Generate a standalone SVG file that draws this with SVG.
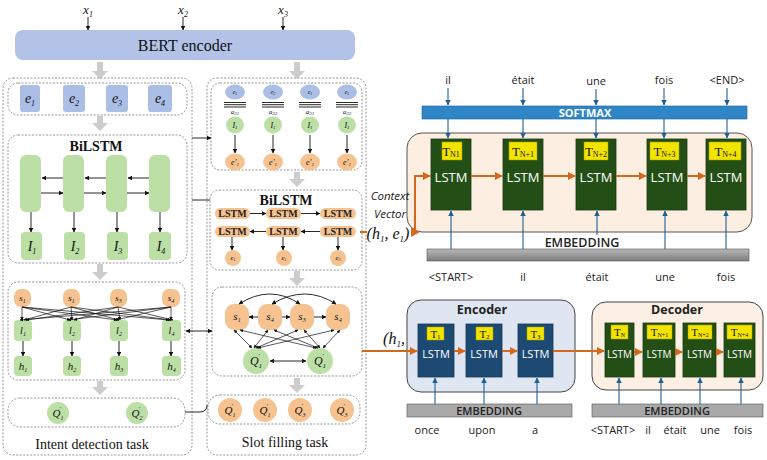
<svg xmlns="http://www.w3.org/2000/svg" width="767" height="460" viewBox="0 0 767 460">
<defs>
<marker id="ab" viewBox="0 0 10 10" refX="9" refY="5" markerWidth="5" markerHeight="5" orient="auto-start-reverse"><path d="M0,0 L10,5 L0,10 z" fill="#111"/></marker>
<marker id="abl" viewBox="0 0 10 10" refX="9" refY="5" markerWidth="5" markerHeight="5" orient="auto-start-reverse"><path d="M0,0 L10,5 L0,10 z" fill="#1f5f94"/></marker>
<marker id="aor" viewBox="0 0 10 10" refX="9" refY="5" markerWidth="4" markerHeight="4" orient="auto-start-reverse"><path d="M0,0 L10,5 L0,10 z" fill="#d2691e"/></marker>
<linearGradient id="emb" x1="0" y1="0" x2="0" y2="1"><stop offset="0" stop-color="#b8b8b8"/><stop offset="1" stop-color="#7d7d7d"/></linearGradient>
</defs>
<style>
.serif{font-family:"Liberation Serif","Times New Roman",serif;}
.sans{font-family:"Open Sans","Noto Sans",sans-serif;}
.dash{fill:none;stroke:#8a8a8a;stroke-width:0.9;stroke-dasharray:2 1.5;}
.blk{stroke:#111;stroke-width:0.9;fill:none;}
.a{marker-end:url(#ab);}
.aa{marker-start:url(#ab);marker-end:url(#ab);}
.thin{stroke-width:0.7;}
.blu{stroke:#1f5f94;stroke-width:1.1;fill:none;marker-end:url(#abl);}
.org{stroke:#d2691e;stroke-width:2;fill:none;}
.oa{marker-end:url(#aor);}
.gbox{fill:#bcdfa6;}
.obox{fill:#f6c28f;}
.bbox{fill:#abbfe6;}
.lbl{font-family:"Liberation Serif",serif;font-style:italic;text-anchor:middle;fill:#111;}
.gray{fill:#cccccc;}
.lstmG{fill:#234f17;stroke:#1a3a10;stroke-width:0.8;}
.lstmB{fill:#1d4a72;stroke:#15385a;stroke-width:0.8;}
.yel{fill:#f3e400;stroke:#a89e00;stroke-width:0.5;}
.wt{font-family:"Open Sans","Noto Sans",sans-serif;fill:#fff;text-anchor:middle;}
.tt{font-family:"Liberation Serif",serif;fill:#111;text-anchor:middle;}
.pill{fill:#f6c28f;}
.lt{font-family:"Liberation Serif",serif;font-size:10px;font-weight:bold;text-anchor:middle;fill:#222;}
</style>

<g id="inputs">
<text class="lbl" x="88" y="14" font-size="13">x<tspan font-size="8" dy="3">1</tspan></text>
<text class="lbl" x="183" y="14" font-size="13">x<tspan font-size="8" dy="3">2</tspan></text>
<text class="lbl" x="283" y="14" font-size="13">x<tspan font-size="8" dy="3">3</tspan></text>
</g>
<g id="bert">
<rect x="15" y="30" width="340" height="30" rx="8" fill="#b3c3e7"/>
<text class="serif" x="185" y="51" font-size="16" text-anchor="middle" fill="#111">BERT  encoder</text>
</g>

<g id="blockarrows">
<path class="gray" d="M97,62 h6 v9 h5 l-8,8 l-8,-8 h5 z"/>
<path class="gray" d="M294,62 h6 v9 h5 l-8,8 l-8,-8 h5 z"/>
<path class="gray" d="M97,116 h6 v7 h5 l-8,8 l-8,-8 h5 z"/>
<path class="gray" d="M97,264 h6 v8 h5 l-8,8 l-8,-8 h5 z"/>
<path class="gray" d="M97,381 h6 v6 h5 l-8,8 l-8,-8 h5 z"/>
<path class="gray" d="M294,172 h6 v7 h5 l-8,8 l-8,-8 h5 z"/>
<path class="gray" d="M294,271 h6 v7 h5 l-8,8 l-8,-8 h5 z"/>
<path class="gray" d="M294,378 h6 v7 h5 l-8,8 l-8,-8 h5 z"/>
</g>

<g id="intent-task">
<rect class="dash" x="3" y="78" width="189" height="377" rx="10"/>
<text class="serif" x="92" y="449" font-size="14" text-anchor="middle" fill="#111">Intent detection task</text>
</g>
<g id="left-embeddings">
<rect class="dash" x="8" y="83" width="179" height="32" rx="10"/>
<rect class="bbox" x="20" y="85" width="20" height="27" rx="3"/>
<rect class="bbox" x="63" y="85" width="22" height="27" rx="3"/>
<rect class="bbox" x="106" y="85" width="22" height="27" rx="3"/>
<rect class="bbox" x="148" y="85" width="24" height="27" rx="3"/>
<text class="lbl" x="30" y="103" font-size="14">e<tspan font-size="8" dy="3">1</tspan></text>
<text class="lbl" x="74" y="103" font-size="14">e<tspan font-size="8" dy="3">2</tspan></text>
<text class="lbl" x="117" y="103" font-size="14">e<tspan font-size="8" dy="3">3</tspan></text>
<text class="lbl" x="160" y="103" font-size="14">e<tspan font-size="8" dy="3">4</tspan></text>
</g>
<g id="left-bilstm">
<rect class="dash" x="8" y="135" width="179" height="128" rx="10"/>
<text class="serif" x="96" y="151" font-size="14" font-weight="bold" text-anchor="middle" fill="#111">BiLSTM</text>
<rect class="gbox" x="20" y="155" width="21" height="57" rx="6"/>
<rect class="gbox" x="63" y="155" width="21" height="57" rx="6"/>
<rect class="gbox" x="106" y="155" width="21" height="57" rx="6"/>
<rect class="gbox" x="149" y="155" width="21" height="57" rx="6"/>
<rect class="gbox" x="21" y="232" width="21" height="28" rx="4"/>
<rect class="gbox" x="64" y="232" width="21" height="28" rx="4"/>
<rect class="gbox" x="107" y="232" width="21" height="28" rx="4"/>
<rect class="gbox" x="149" y="232" width="22" height="28" rx="4"/>
<text class="lbl" x="32" y="251" font-size="14">I<tspan font-size="8" dy="3">1</tspan></text>
<text class="lbl" x="75" y="251" font-size="14">I<tspan font-size="8" dy="3">2</tspan></text>
<text class="lbl" x="118" y="251" font-size="14">I<tspan font-size="8" dy="3">3</tspan></text>
<text class="lbl" x="161" y="251" font-size="14">I<tspan font-size="8" dy="3">4</tspan></text>
</g>
<g id="left-graph">
<rect class="dash" x="8" y="282" width="177" height="98" rx="10"/>
<rect class="obox" x="14" y="289" width="17" height="18" rx="7"/>
<rect class="obox" x="63" y="289" width="17" height="18" rx="7"/>
<rect class="obox" x="110" y="289" width="17" height="18" rx="7"/>
<rect class="obox" x="162" y="289" width="18" height="18" rx="7"/>
<text class="lbl" x="22.5" y="301" font-size="9">s<tspan font-size="6" dy="2">1</tspan></text>
<text class="lbl" x="71.5" y="301" font-size="9">s<tspan font-size="6" dy="2">1</tspan></text>
<text class="lbl" x="118.5" y="301" font-size="9">s<tspan font-size="6" dy="2">3</tspan></text>
<text class="lbl" x="171" y="301" font-size="9">s<tspan font-size="6" dy="2">4</tspan></text>
<rect class="gbox" x="14" y="320" width="18" height="21" rx="4"/>
<rect class="gbox" x="63" y="320" width="18" height="21" rx="4"/>
<rect class="gbox" x="110" y="320" width="18" height="21" rx="4"/>
<rect class="gbox" x="162" y="320" width="19" height="21" rx="4"/>
<text class="lbl" x="23" y="334" font-size="10">l<tspan font-size="6" dy="2">1</tspan></text>
<text class="lbl" x="72" y="334" font-size="10">l<tspan font-size="6" dy="2">2</tspan></text>
<text class="lbl" x="119" y="334" font-size="10">l<tspan font-size="6" dy="2">2</tspan></text>
<text class="lbl" x="171.5" y="334" font-size="10">l<tspan font-size="6" dy="2">4</tspan></text>
<rect class="gbox" x="14" y="356" width="18" height="20" rx="4"/>
<rect class="gbox" x="63" y="356" width="18" height="20" rx="4"/>
<rect class="gbox" x="110" y="356" width="18" height="20" rx="4"/>
<rect class="gbox" x="162" y="356" width="19" height="20" rx="4"/>
<text class="lbl" x="23" y="370" font-size="11">h<tspan font-size="6" dy="2">1</tspan></text>
<text class="lbl" x="72" y="370" font-size="11">h<tspan font-size="6" dy="2">2</tspan></text>
<text class="lbl" x="119" y="370" font-size="11">h<tspan font-size="6" dy="2">3</tspan></text>
<text class="lbl" x="171.5" y="370" font-size="11">h<tspan font-size="6" dy="2">4</tspan></text>
</g>
<g id="left-output">
<rect class="dash" x="8" y="398" width="177" height="29" rx="12"/>
<circle class="gbox" cx="58" cy="413" r="11"/>
<circle class="gbox" cx="137" cy="413" r="11"/>
<text class="lbl" x="58" y="417" font-size="11">Q<tspan font-size="6" dy="3">1</tspan><tspan font-size="6" dx="-4" dy="-9">'</tspan></text>
<text class="lbl" x="137" y="417" font-size="11">Q<tspan font-size="6" dy="3">2</tspan><tspan font-size="6" dx="-4" dy="-9">'</tspan></text>
</g>

<g id="slot-task">
<rect class="dash" x="207" y="78" width="159" height="377" rx="10"/>
<text class="serif" x="285" y="447" font-size="14" text-anchor="middle" fill="#111">Slot filling task</text>
</g>
<g id="middle-attention">
<rect class="dash" x="211" y="83" width="151" height="87" rx="9"/>
<ellipse class="bbox" cx="235" cy="92" rx="10" ry="7.5"/>
<ellipse class="bbox" cx="273" cy="92" rx="10" ry="7.5"/>
<ellipse class="bbox" cx="310" cy="92" rx="10" ry="7.5"/>
<ellipse class="bbox" cx="347" cy="92" rx="10" ry="7.5"/>
<text class="lbl" x="235" y="94" font-size="6">e<tspan font-size="4" dy="1">1</tspan></text>
<text class="lbl" x="273" y="94" font-size="6">e<tspan font-size="4" dy="1">2</tspan></text>
<text class="lbl" x="310" y="94" font-size="6">e<tspan font-size="4" dy="1">1</tspan></text>
<text class="lbl" x="347" y="94" font-size="6">e<tspan font-size="4" dy="1">1</tspan></text>
<g stroke="#111" stroke-width="0.9">
<path d="M224,102.5h22 M224,104.7h22 M224,107h22"/>
<path d="M262,102.5h22 M262,104.7h22 M262,107h22"/>
<path d="M299,102.5h22 M299,104.7h22 M299,107h22"/>
<path d="M336,102.5h22 M336,104.7h22 M336,107h22"/>
</g>
<text class="lbl" x="235" y="114" font-size="7">a<tspan font-size="5" dy="1">31</tspan></text>
<text class="lbl" x="273" y="114" font-size="7">a<tspan font-size="5" dy="1">32</tspan></text>
<text class="lbl" x="310" y="114" font-size="7">a<tspan font-size="5" dy="1">31</tspan></text>
<text class="lbl" x="347" y="114" font-size="7">a<tspan font-size="5" dy="1">33</tspan></text>
<ellipse class="gbox" cx="235" cy="125" rx="9" ry="8.5"/>
<ellipse class="gbox" cx="273" cy="125" rx="9" ry="8.5"/>
<ellipse class="gbox" cx="310" cy="125" rx="9" ry="8.5"/>
<ellipse class="gbox" cx="347" cy="125" rx="9" ry="8.5"/>
<text class="lbl" x="235" y="128" font-size="8">I<tspan font-size="5" dy="1">1</tspan></text>
<text class="lbl" x="273" y="128" font-size="8">I<tspan font-size="5" dy="1">1</tspan></text>
<text class="lbl" x="310" y="128" font-size="8">I<tspan font-size="5" dy="1">1</tspan></text>
<text class="lbl" x="347" y="128" font-size="8">I<tspan font-size="5" dy="1">1</tspan></text>
<ellipse class="obox" cx="235" cy="162" rx="10" ry="8.5"/>
<ellipse class="obox" cx="273" cy="162" rx="10" ry="8.5"/>
<ellipse class="obox" cx="310" cy="162" rx="10" ry="8.5"/>
<ellipse class="obox" cx="347" cy="162" rx="10" ry="8.5"/>
<text class="lbl" x="235" y="165" font-size="8">e'<tspan font-size="5" dy="1">1</tspan></text>
<text class="lbl" x="273" y="165" font-size="8">e'<tspan font-size="5" dy="1">1</tspan></text>
<text class="lbl" x="310" y="165" font-size="8">e'<tspan font-size="5" dy="1">1</tspan></text>
<text class="lbl" x="347" y="165" font-size="8">e'<tspan font-size="5" dy="1">1</tspan></text>
</g>
<g id="middle-bilstm">
<rect class="dash" x="210" y="190" width="152" height="80" rx="9"/>
<text class="serif" x="286" y="205" font-size="14" font-weight="bold" text-anchor="middle" fill="#111">BiLSTM</text>
<rect class="pill" x="215" y="208" width="35" height="11" rx="5.5"/>
<rect class="pill" x="266" y="208" width="35" height="11" rx="5.5"/>
<rect class="pill" x="320" y="208" width="36" height="11" rx="5.5"/>
<rect class="pill" x="215" y="226" width="35" height="11" rx="5.5"/>
<rect class="pill" x="266" y="226" width="35" height="11" rx="5.5"/>
<rect class="pill" x="320" y="226" width="36" height="11" rx="5.5"/>
<text class="lt" x="232.5" y="217">LSTM</text>
<text class="lt" x="283.5" y="217">LSTM</text>
<text class="lt" x="338" y="217">LSTM</text>
<text class="lt" x="232.5" y="235">LSTM</text>
<text class="lt" x="283.5" y="235">LSTM</text>
<text class="lt" x="338" y="235">LSTM</text>
<circle class="obox" cx="233" cy="258" r="8"/>
<circle class="obox" cx="284" cy="258" r="8"/>
<circle class="obox" cx="338" cy="258" r="8"/>
<text class="lbl" x="233" y="260" font-size="7">e<tspan font-size="4" dy="1">1</tspan></text>
<text class="lbl" x="284" y="260" font-size="7">e<tspan font-size="4" dy="1">1</tspan></text>
<text class="lbl" x="338" y="260" font-size="7">e<tspan font-size="4" dy="1">3</tspan></text>
</g>
<g id="middle-graph">
<rect class="dash" x="212" y="287" width="150" height="89" rx="10"/>
<rect class="obox" x="225" y="304" width="24" height="26" rx="9"/>
<rect class="obox" x="258" y="304" width="24" height="26" rx="9"/>
<rect class="obox" x="290" y="304" width="24" height="26" rx="9"/>
<rect class="obox" x="326" y="304" width="24" height="26" rx="9"/>
<text class="lbl" x="237" y="320" font-size="11">s<tspan font-size="6" dy="2">1</tspan></text>
<text class="lbl" x="270" y="320" font-size="11">s<tspan font-size="6" dy="2">4</tspan></text>
<text class="lbl" x="302" y="320" font-size="11">s<tspan font-size="6" dy="2">3</tspan></text>
<text class="lbl" x="338" y="320" font-size="11">s<tspan font-size="6" dy="2">4</tspan></text>
<circle class="gbox" cx="256" cy="361" r="13"/>
<circle class="gbox" cx="320" cy="361" r="13"/>
<text class="lbl" x="256" y="365" font-size="12">Q<tspan font-size="7" dy="3">1</tspan><tspan font-size="7" dx="-4" dy="-10">'</tspan></text>
<text class="lbl" x="320" y="365" font-size="12">Q<tspan font-size="7" dy="3">1</tspan><tspan font-size="7" dx="-4" dy="-10">'</tspan></text>
</g>
<g id="middle-output">
<rect class="dash" x="208" y="395" width="152" height="29" rx="12"/>
<circle class="obox" cx="230" cy="410" r="12"/>
<circle class="obox" cx="265" cy="410" r="12"/>
<circle class="obox" cx="300" cy="410" r="12"/>
<circle class="obox" cx="342" cy="410" r="12"/>
<text class="lbl" x="230" y="414" font-size="11">Q<tspan font-size="6" dy="3">1</tspan><tspan font-size="6" dx="-4" dy="-9">'</tspan></text>
<text class="lbl" x="265" y="414" font-size="11">Q<tspan font-size="6" dy="3">1</tspan><tspan font-size="6" dx="-4" dy="-9">'</tspan></text>
<text class="lbl" x="300" y="414" font-size="11">Q<tspan font-size="6" dy="3">3</tspan><tspan font-size="6" dx="-4" dy="-9">'</tspan></text>
<text class="lbl" x="342" y="414" font-size="11">Q<tspan font-size="6" dy="3">3</tspan><tspan font-size="6" dx="-4" dy="-9">'</tspan></text>
</g>

<g id="top-words" class="sans" font-size="11" text-anchor="middle" fill="#222">
<text x="448" y="84">il</text>
<text x="523" y="84">était</text>
<text x="596" y="85">une</text>
<text x="664" y="84">fois</text>
<text x="727" y="84">&lt;END&gt;</text>
</g>
<g id="softmax">
<rect x="422" y="106" width="325" height="13" fill="#2f86c6" stroke="#1d5f94" stroke-width="0.6"/>
<text class="wt" x="585" y="116.5" font-size="11" font-weight="bold">SOFTMAX</text>
</g>
<g id="top-decoder">
<rect x="407" y="133" width="345" height="99" rx="15" fill="#fdeee2" stroke="#555" stroke-width="1"/>
<rect class="lstmG" x="431" y="139" width="40" height="71"/>
<rect class="lstmG" x="503" y="139" width="40" height="71"/>
<rect class="lstmG" x="576" y="139" width="40" height="71"/>
<rect class="lstmG" x="647" y="139" width="40" height="71"/>
<rect class="lstmG" x="706" y="139" width="40" height="71"/>
<rect class="yel" x="442" y="142" width="20" height="18"/>
<rect class="yel" x="509" y="142" width="28" height="18"/>
<rect class="yel" x="584" y="142" width="24" height="18"/>
<rect class="yel" x="650" y="142" width="29" height="18"/>
<rect class="yel" x="709" y="142" width="32" height="18"/>
<text class="tt" x="451" y="156" font-size="13">T<tspan font-size="8" dy="1">N1</tspan></text>
<text class="tt" x="523" y="156" font-size="13">T<tspan font-size="8" dy="1">N+1</tspan></text>
<text class="tt" x="596" y="156" font-size="13">T<tspan font-size="8" dy="1">N+2</tspan></text>
<text class="tt" x="664.5" y="156" font-size="13">T<tspan font-size="8" dy="1">N+3</tspan></text>
<text class="tt" x="725.5" y="156" font-size="13">T<tspan font-size="8" dy="1">N+4</tspan></text>
<text class="wt" x="451" y="182" font-size="13">LSTM</text>
<text class="wt" x="523" y="182" font-size="13">LSTM</text>
<text class="wt" x="596" y="182" font-size="13">LSTM</text>
<text class="wt" x="667" y="182" font-size="13">LSTM</text>
<text class="wt" x="726" y="182" font-size="13">LSTM</text>
</g>
<g id="top-embedding">
<text class="sans" x="582" y="247" font-size="12.5" font-weight="600" text-anchor="middle" fill="#222">EMBEDDING</text>
<rect x="427" y="249" width="322" height="12" fill="url(#emb)" stroke="#555" stroke-width="0.6"/>
</g>
<g id="top-inputs" class="sans" font-size="11" text-anchor="middle" fill="#222">
<text x="451" y="281">&lt;START&gt;</text>
<text x="523" y="281">il</text>
<text x="597" y="281">était</text>
<text x="665" y="281">une</text>
<text x="726" y="281">fois</text>
</g>
<g id="context-vector">
<text class="sans" x="390" y="200" font-size="11.5" font-style="italic" text-anchor="middle" fill="#222">Context</text>
<text class="sans" x="390" y="218" font-size="11.5" font-style="italic" text-anchor="middle" fill="#222">Vector</text>
<text class="serif" x="388" y="239" font-size="16" font-style="italic" text-anchor="middle" fill="#111">(h<tspan font-size="9" dy="3">1</tspan><tspan dy="-3">, e</tspan><tspan font-size="9" dy="3">1</tspan><tspan dy="-3">)</tspan></text>
</g>

<g id="encoder">
<rect x="407" y="300" width="168" height="92" rx="14" fill="#dfe6f1" stroke="#444" stroke-width="1"/>
<text class="sans" x="482" y="314" font-size="12.5" font-weight="bold" text-anchor="middle" fill="#222">Encoder</text>
<rect class="lstmB" x="418" y="324" width="36" height="53"/>
<rect class="lstmB" x="466" y="324" width="36" height="53"/>
<rect class="lstmB" x="518" y="324" width="35" height="53"/>
<rect class="yel" x="427" y="327" width="17" height="13"/>
<rect class="yel" x="476" y="327" width="17" height="13"/>
<rect class="yel" x="527" y="327" width="17" height="13"/>
<text class="tt" x="435.5" y="338" font-size="11">T<tspan font-size="7" dy="1">1</tspan></text>
<text class="tt" x="484.5" y="338" font-size="11">T<tspan font-size="7" dy="1">2</tspan></text>
<text class="tt" x="535.5" y="338" font-size="11">T<tspan font-size="7" dy="1">3</tspan></text>
<text class="wt" x="436" y="358" font-size="11">LSTM</text>
<text class="wt" x="484" y="358" font-size="11">LSTM</text>
<text class="wt" x="535.5" y="358" font-size="11">LSTM</text>
<rect x="407" y="404" width="165" height="13" fill="#a9a9a9" stroke="#555" stroke-width="0.6"/>
<text class="sans" x="489" y="414.5" font-size="11" font-weight="600" text-anchor="middle" fill="#222">EMBEDDING</text>
<g class="sans" font-size="11" text-anchor="middle" fill="#222">
<text x="427" y="434">once</text>
<text x="482" y="434">upon</text>
<text x="535" y="434">a</text>
</g>
<text class="serif" x="394" y="344" font-size="16" font-style="italic" text-anchor="middle" fill="#111">(h<tspan font-size="9" dy="3">1</tspan><tspan dy="-3">,</tspan></text>
</g>
<g id="decoder">
<rect x="592" y="302" width="171" height="88" rx="14" fill="#fcefe3" stroke="#444" stroke-width="1"/>
<text class="sans" x="677" y="314" font-size="12.5" font-weight="bold" text-anchor="middle" fill="#222">Decoder</text>
<rect class="lstmG" x="605" y="323" width="29" height="54"/>
<rect class="lstmG" x="643" y="323" width="32" height="54"/>
<rect class="lstmG" x="683" y="323" width="33" height="54"/>
<rect class="lstmG" x="724" y="323" width="31" height="54"/>
<rect class="yel" x="611" y="325" width="17" height="14"/>
<rect class="yel" x="647" y="325" width="25" height="14"/>
<rect class="yel" x="688" y="325" width="24" height="14"/>
<rect class="yel" x="727" y="325" width="25" height="14"/>
<text class="tt" x="619.5" y="336" font-size="11">T<tspan font-size="6" dy="1">N</tspan></text>
<text class="tt" x="659.5" y="336" font-size="11">T<tspan font-size="6" dy="1">N+1</tspan></text>
<text class="tt" x="700" y="336" font-size="11">T<tspan font-size="6" dy="1">N+2</tspan></text>
<text class="tt" x="739.5" y="336" font-size="11">T<tspan font-size="6" dy="1">N+4</tspan></text>
<text class="wt" x="619.5" y="358" font-size="10">LSTM</text>
<text class="wt" x="659" y="358" font-size="10">LSTM</text>
<text class="wt" x="699.5" y="358" font-size="10">LSTM</text>
<text class="wt" x="739.5" y="358" font-size="10">LSTM</text>
<rect x="592" y="404" width="171" height="13" fill="#a9a9a9" stroke="#555" stroke-width="0.6"/>
<text class="sans" x="677" y="414.5" font-size="11" font-weight="600" text-anchor="middle" fill="#222">EMBEDDING</text>
<g class="sans" font-size="11" text-anchor="middle" fill="#222">
<text x="613" y="434">&lt;START&gt;</text>
<text x="648" y="434">il</text>
<text x="675" y="434">était</text>
<text x="710" y="434">une</text>
<text x="743" y="434">fois</text>
</g>
</g>

<g id="connectors">
<line class="blk a" x1="88" y1="17" x2="88" y2="30"/>
<line class="blk a" x1="183" y1="17" x2="183" y2="30"/>
<line class="blk a" x1="283" y1="17" x2="283" y2="30"/>
<line class="blk a" x1="63" y1="178" x2="42" y2="178"/>
<line class="blk a" x1="106" y1="178" x2="85" y2="178"/>
<line class="blk a" x1="149" y1="178" x2="128" y2="178"/>
<line class="blk a" x1="41" y1="193" x2="63" y2="193"/>
<line class="blk a" x1="84" y1="193" x2="106" y2="193"/>
<line class="blk a" x1="127" y1="193" x2="149" y2="193"/>
<line class="blk a" x1="31" y1="212" x2="31" y2="232"/>
<line class="blk a" x1="74" y1="212" x2="74" y2="232"/>
<line class="blk a" x1="117" y1="212" x2="117" y2="232"/>
<line class="blk a" x1="160" y1="212" x2="160" y2="232"/>
<line class="blk a thin" x1="22" y1="307" x2="22" y2="320"/>
<line class="blk a thin" x1="22" y1="307" x2="70" y2="320"/>
<line class="blk a thin" x1="22" y1="307" x2="117" y2="320"/>
<line class="blk a thin" x1="22" y1="307" x2="169" y2="320"/>
<line class="blk a thin" x1="71" y1="307" x2="24" y2="320"/>
<line class="blk a thin" x1="71" y1="307" x2="72" y2="320"/>
<line class="blk a thin" x1="71" y1="307" x2="119" y2="320"/>
<line class="blk a thin" x1="71" y1="307" x2="171" y2="320"/>
<line class="blk a thin" x1="118" y1="307" x2="26" y2="320"/>
<line class="blk a thin" x1="118" y1="307" x2="74" y2="320"/>
<line class="blk a thin" x1="118" y1="307" x2="120" y2="320"/>
<line class="blk a thin" x1="118" y1="307" x2="173" y2="320"/>
<line class="blk a thin" x1="171" y1="307" x2="20" y2="320"/>
<line class="blk a thin" x1="171" y1="307" x2="68" y2="320"/>
<line class="blk a thin" x1="171" y1="307" x2="116" y2="320"/>
<line class="blk a thin" x1="171" y1="307" x2="171" y2="320"/>
<line class="blk a" x1="23" y1="341" x2="23" y2="356"/>
<line class="blk a" x1="72" y1="341" x2="72" y2="356"/>
<line class="blk a" x1="119" y1="341" x2="119" y2="356"/>
<line class="blk a" x1="171" y1="341" x2="171" y2="356"/>
<line class="blk" stroke="#555" x1="192" y1="200" x2="210" y2="200"/>
<line class="blk a" x1="192" y1="138" x2="211" y2="138"/>
<line class="blk aa" x1="186" y1="331" x2="212" y2="331"/>
<path class="blk" stroke="#555" d="M185,412 H200 Q207,412 207,405"/>
<line class="blk a" x1="235" y1="135" x2="235" y2="153"/>
<line class="blk a" x1="273" y1="135" x2="273" y2="153"/>
<line class="blk a" x1="310" y1="135" x2="310" y2="153"/>
<line class="blk a" x1="347" y1="135" x2="347" y2="153"/>
<line class="blk a" x1="250" y1="213.5" x2="266" y2="213.5"/>
<line class="blk a" x1="301" y1="213.5" x2="320" y2="213.5"/>
<line class="blk a" x1="266" y1="231.5" x2="250" y2="231.5"/>
<line class="blk a" x1="320" y1="231.5" x2="301" y2="231.5"/>
<line class="blk a" x1="232" y1="237" x2="232" y2="250"/>
<line class="blk a" x1="283" y1="237" x2="283" y2="250"/>
<line class="blk a" x1="338" y1="237" x2="338" y2="250"/>
<line class="blk a" x1="258" y1="317" x2="249" y2="317"/>
<line class="blk a" x1="282" y1="317" x2="290" y2="317"/>
<line class="blk a" x1="314" y1="317" x2="326" y2="317"/>
<path class="blk aa" d="M239,304 Q270,284 300,304"/>
<path class="blk aa" d="M272,304 Q305,284 336,304"/>
<line class="blk aa thin" x1="252" y1="348" x2="234" y2="330"/>
<line class="blk aa thin" x1="254" y1="348" x2="268" y2="330"/>
<line class="blk aa thin" x1="256" y1="348" x2="298" y2="330"/>
<line class="blk aa thin" x1="258" y1="348" x2="334" y2="330"/>
<line class="blk aa thin" x1="316" y1="348" x2="240" y2="330"/>
<line class="blk aa thin" x1="318" y1="348" x2="274" y2="330"/>
<line class="blk aa thin" x1="320" y1="348" x2="304" y2="330"/>
<line class="blk aa thin" x1="323" y1="348" x2="340" y2="330"/>
<line class="blk aa" x1="270" y1="361" x2="306" y2="361"/>
<line class="blu" x1="448" y1="88" x2="448" y2="105"/>
<line class="blu" x1="523" y1="88" x2="523" y2="105"/>
<line class="blu" x1="596" y1="89" x2="596" y2="105"/>
<line class="blu" x1="664" y1="88" x2="664" y2="105"/>
<line class="blu" x1="727" y1="88" x2="727" y2="105"/>
<line class="blu" x1="448" y1="119" x2="448" y2="138"/>
<line class="blu" x1="523" y1="119" x2="523" y2="138"/>
<line class="blu" x1="596" y1="119" x2="596" y2="138"/>
<line class="blu" x1="664" y1="119" x2="664" y2="138"/>
<line class="blu" x1="727" y1="119" x2="727" y2="138"/>
<line class="blu" x1="451" y1="249" x2="451" y2="211"/>
<line class="blu" x1="523" y1="249" x2="523" y2="211"/>
<line class="blu" x1="597" y1="235" x2="597" y2="211"/>
<line class="blu" x1="665" y1="249" x2="665" y2="211"/>
<line class="blu" x1="726" y1="249" x2="726" y2="211"/>
<line class="org oa" x1="471" y1="176" x2="502" y2="176"/>
<line class="org oa" x1="543" y1="176" x2="575" y2="176"/>
<line class="org oa" x1="616" y1="176" x2="646" y2="176"/>
<line class="org oa" x1="687" y1="176" x2="705" y2="176"/>
<line class="org" x1="360" y1="232" x2="367" y2="232"/>
<path class="org oa" d="M415,230 V176 H430"/>
<path d="M411,227 L420,232 L411,237 z" fill="#d2691e"/>
<line class="org oa" x1="362" y1="351" x2="417" y2="351"/>
<line class="org oa" x1="454" y1="351" x2="465" y2="351"/>
<line class="org oa" x1="502" y1="351" x2="517" y2="351"/>
<line class="org oa" x1="553" y1="351" x2="604" y2="351"/>
<line class="org oa" stroke-width="1.6" x1="634" y1="352" x2="642" y2="352"/>
<line class="org oa" stroke-width="1.6" x1="675" y1="352" x2="682" y2="352"/>
<line class="org oa" stroke-width="1.6" x1="716" y1="352" x2="723" y2="352"/>
<line class="blu" x1="435" y1="404" x2="435" y2="378"/>
<line class="blu" x1="484" y1="404" x2="484" y2="378"/>
<line class="blu" x1="537" y1="404" x2="537" y2="378"/>
<line class="blu" x1="619" y1="404" x2="619" y2="378"/>
<line class="blu" x1="661" y1="404" x2="661" y2="378"/>
<line class="blu" x1="700" y1="404" x2="700" y2="378"/>
<line class="blu" x1="741" y1="404" x2="741" y2="378"/>
</g>
</svg>
